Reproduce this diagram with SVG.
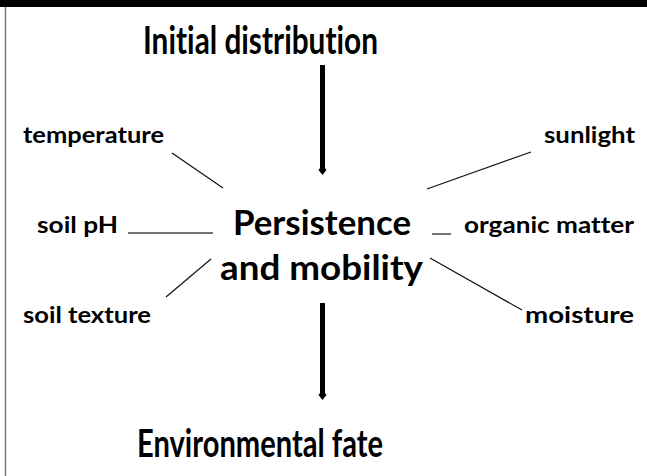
<svg xmlns="http://www.w3.org/2000/svg" width="647" height="476" viewBox="0 0 647 476">
<style>
text{font-family:Lato,"Open Sans","Liberation Sans",sans-serif;font-weight:bold;fill:#000;font-variant-ligatures:none}
.big{font-size:39px}
.mid{font-size:34px}
.lab{font-size:22px}
.thin{stroke:#111;stroke-width:1.2;fill:none}
.arrow{stroke:#000;stroke-width:5;fill:none}
</style>
<defs>
<marker id="dia" markerUnits="userSpaceOnUse" markerWidth="12" markerHeight="12" refX="6" refY="6" orient="auto">
<path d="M1,6 L6,2 L11,6 L6,10 Z" fill="#000"/>
</marker>
</defs>
<rect x="0" y="0" width="647" height="476" fill="#fff"/>
<rect x="0" y="0" width="647" height="7" fill="#000"/>
<line x1="5.5" y1="7" x2="5.5" y2="476" stroke="#777" stroke-width="1.5"/>
<g id="connectors">
<line class="arrow" x1="322.5" y1="65" x2="322.5" y2="170" marker-end="url(#dia)"/>
<line class="arrow" x1="322.5" y1="303" x2="322.5" y2="395" marker-end="url(#dia)"/>
<line class="thin" x1="172" y1="153" x2="223" y2="188"/>
<line class="thin" x1="128" y1="233" x2="213" y2="233" style="stroke:#444;stroke-width:1.5"/>
<line class="thin" x1="166" y1="297" x2="211" y2="259"/>
<line class="thin" x1="531" y1="152" x2="427" y2="189"/>
<line class="thin" x1="432" y1="234" x2="451" y2="234" style="stroke:#444;stroke-width:1.5"/>
<line class="thin" x1="430" y1="258" x2="522" y2="310"/>
</g>
<g id="initial"><text class="big" x="143" y="54" textLength="235" lengthAdjust="spacingAndGlyphs">Initial distribution</text></g>
<g id="persistence">
<text class="mid" x="233" y="235" textLength="178" lengthAdjust="spacingAndGlyphs">Persistence</text>
<text class="mid" x="220" y="280" textLength="203" lengthAdjust="spacingAndGlyphs">and mobility</text>
</g>
<g id="fate"><text class="big" x="137" y="457" textLength="246" lengthAdjust="spacingAndGlyphs">Environmental fate</text></g>
<g id="temperature"><text class="lab" x="23" y="143" textLength="141" lengthAdjust="spacingAndGlyphs">temperature</text></g>
<g id="soilph"><text class="lab" x="37" y="233" textLength="81" lengthAdjust="spacingAndGlyphs">soil pH</text></g>
<g id="soiltexture"><text class="lab" x="23" y="323" textLength="128" lengthAdjust="spacingAndGlyphs">soil texture</text></g>
<g id="sunlight"><text class="lab" x="544" y="143" textLength="91" lengthAdjust="spacingAndGlyphs">sunlight</text></g>
<g id="organic"><text class="lab" x="464" y="233" textLength="170" lengthAdjust="spacingAndGlyphs">organic matter</text></g>
<g id="moisture"><text class="lab" x="525" y="323" textLength="109" lengthAdjust="spacingAndGlyphs">moisture</text></g>
</svg>
